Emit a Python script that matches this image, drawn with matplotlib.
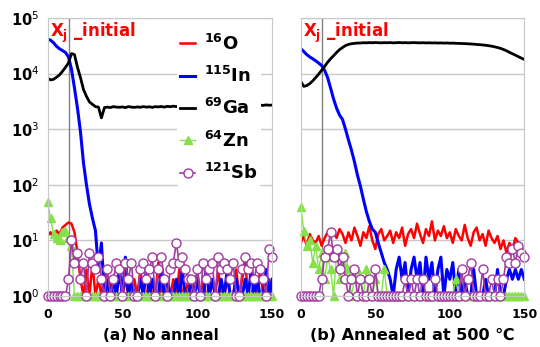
import numpy as np
import matplotlib.pyplot as plt
from matplotlib.ticker import FixedLocator, FuncFormatter, NullLocator

# profundidad (paso de 2)
depth = np.arange(0, 151, 2)

# (a) No anneal
in_a = [42000, 40000, 36000, 31000, 28000, 26000, 24000, 20000, 12000, 5500,
        2400, 900, 250, 100, 45, 25, 15, 3, 9, 1,
        2, 1, 2, 1, 3, 1, 5, 1, 2, 1,
        1, 2, 1, 3, 1, 2, 1, 1, 3, 1,
        2, 1, 1, 2, 1, 3, 1, 1, 2, 1,
        2, 1, 1, 3, 1, 2, 1, 1, 2, 1,
        3, 1, 1, 2, 1, 1, 2, 1, 3, 1,
        2, 1, 1, 3, 1, 2]
ga_a = [8300, 7700, 7900, 8600, 9500, 11000, 13000, 15500, 23000, 22000,
        13000, 8500, 5200, 3900, 3100, 2800, 2550, 2500, 1600, 2450,
        2500, 2450, 2550, 2500, 2480, 2520, 2450, 2550, 2500, 2470,
        2520, 2480, 2550, 2500, 2530, 2470, 2550, 2520, 2560, 2500,
        2580, 2540, 2600, 2550, 2620, 2580, 2600, 2560, 2620, 2600,
        2600, 2640, 2600, 2650, 2620, 2660, 2640, 2620, 2680, 2650,
        2660, 2700, 2650, 2680, 2700, 2660, 2720, 2690, 2700, 2720,
        2700, 2720, 2680, 2740, 2700, 2720]
o_a = [12, 14, 11, 15, 13, 17, 19, 21, 20, 14,
       6, 2, 1, 3, 1, 4, 1, 2, 1, 3,
       1, 2, 1, 1, 3, 1, 2, 1, 1, 2,
       1, 3, 1, 1, 2, 1, 1, 4, 1, 2,
       1, 1, 2, 1, 3, 1, 1, 2, 1, 1,
       3, 1, 2, 1, 1, 2, 1, 3, 1, 1,
       2, 1, 1, 3, 1, 2, 4, 1, 1, 2,
       1, 3, 1, 1, 2, 1]
zn_a = [50, 25, 13, 11, 10, 14, 15, 11, 8, 1,
        1, 1, 1, 1, 1, 1, 1, 1, 1, 1,
        1, 1, 1, 1, 1, 1, 1, 1, 1, 1,
        1, 1, 1, 1, 1, 1, 1, 1, 1, 1,
        1, 1, 1, 1, 1, 1, 1, 1, 1, 1,
        1, 1, 1, 1, 1, 1, 1, 1, 1, 1,
        1, 1, 1, 1, 1, 1, 1, 1, 1, 1,
        1, 1, 1, 1, 1, 1]
sb_a = [1, 1, 1, 1, 1, 1, 1, 2, 10, 4,
        6, 2, 4, 1, 6, 4, 3, 5, 2, 1,
        3, 1, 2, 4, 3, 1, 4, 2, 4, 1,
        1, 3, 4, 2, 3, 5, 1, 3, 5, 2,
        1, 3, 4, 9, 4, 5, 3, 2, 2, 1,
        3, 1, 4, 2, 3, 4, 1, 5, 3, 4,
        3, 2, 4, 1, 1, 3, 5, 3, 4, 2,
        4, 3, 2, 1, 7, 5]

# (b) Annealed at 500
in_b = [28000, 25000, 22000, 20000, 18500, 17000, 15500, 14000, 11500, 8500,
        5500, 3500, 2400, 1800, 1500, 1000, 640, 420, 260, 150,
        95, 55, 33, 22, 16, 14, 9, 6, 4, 3,
        2, 1, 3, 5, 2, 4, 1, 3, 5, 2,
        4, 1, 5, 2, 4, 1, 3, 5, 1, 3,
        2, 4, 1, 3, 1, 2, 1, 1, 3, 1,
        1, 1, 2, 1, 1, 1, 3, 1, 1, 2,
        3, 2, 3, 2, 3, 2]
ga_b = [7200, 5900, 6100, 6600, 7400, 8500, 9800, 11500, 13500, 16000,
        18500, 21000, 24000, 27000, 29500, 32000, 33500, 34500, 35000, 35500,
        35500, 36000, 35800, 36200, 35900, 36300, 36000, 35800, 36100, 35900,
        36200, 35800, 36000, 36300, 35900, 36100, 35800, 36000, 36200, 35900,
        35800, 36000, 35700, 35900, 35600, 35800, 35500, 35700, 35400, 35600,
        35300, 35400, 35100, 35000, 34800, 34700, 34400, 34200, 33900, 33500,
        33200, 32800, 32400, 31800, 31200, 30400, 29500, 28500, 27200, 25800,
        24200, 22800, 21500, 20200, 19000, 18000]
o_b = [9, 12, 8, 13, 10, 9, 12, 8, 11, 14,
       12, 15, 11, 16, 13, 9, 14, 10, 17, 12,
       8, 14, 11, 18, 10, 7, 13, 16, 10, 12,
       15, 9, 14, 11, 17, 8, 13, 16, 11, 20,
       13, 9, 16, 12, 22, 10, 15, 12, 18, 11,
       14, 9, 16, 12, 10, 19, 11, 8, 14, 17,
       10, 13, 8, 15, 11, 9, 12, 7, 10, 6,
       9, 7, 11, 9, 8, 5]
zn_b = [40, 15, 8, 10, 4, 8, 3, 6, 2, 5,
        3, 1, 6, 2, 4, 6, 3, 1, 2, 3,
        2, 1, 3, 1, 1, 2, 1, 1, 3, 1,
        1, 1, 1, 1, 1, 1, 1, 1, 1, 1,
        1, 1, 1, 1, 1, 1, 1, 1, 1, 1,
        1, 1, 2, 1, 1, 1, 1, 1, 1, 1,
        1, 1, 1, 1, 1, 1, 1, 1, 1, 1,
        1, 1, 1, 1, 1, 1]
sb_b = [1, 1, 1, 1, 1, 1, 1, 2, 5, 7,
        14, 5, 7, 3, 5, 2, 1, 2, 3, 1,
        2, 1, 1, 2, 1, 3, 1, 1, 1, 1,
        1, 1, 1, 1, 1, 2, 1, 2, 1, 2,
        1, 2, 1, 1, 1, 2, 1, 1, 1, 1,
        1, 1, 1, 1, 3, 1, 2, 4, 1, 1,
        1, 3, 1, 1, 2, 1, 2, 1, 2, 5,
        4, 7, 4, 8, 6, 5]

labels = [r'$^{\mathbf{16}}$O', r'$^{\mathbf{115}}$In', r'$^{\mathbf{69}}$Ga',
          r'$^{\mathbf{64}}$Zn', r'$^{\mathbf{121}}$Sb']
x_init = 14.5

fig = plt.figure(figsize=(5.4, 3.47), dpi=100)
ax1 = fig.add_axes([0.088, 0.147, 0.416, 0.801])
ax2 = fig.add_axes([0.557, 0.147, 0.414, 0.801])


def panel(ax, o, inn, ga, zn, sb):
    ax.plot(depth, o, color='#ff0000', lw=1.8, label=labels[0])
    ax.plot(depth, inn, color='#0000ff', lw=2.2, label=labels[1])
    ax.plot(depth, ga, color='black', lw=2.0, label=labels[2])
    ax.plot(depth, zn, color='#86e04a', lw=1.0, marker='^', ms=6,
            mec='#86e04a', label=labels[3], clip_on=False)
    ax.plot(depth, sb, color='#a03ca0', lw=1.2, marker='o', ms=6.5,
            mfc='white', mec='#a03ca0', mew=1.0, label=labels[4], clip_on=False)
    ax.axvline(x_init, color='#808080', lw=1.0, zorder=1)
    ax.set_yscale('log')
    ax.set_ylim(1, 1e5)
    ax.set_xlim(0, 150)
    ax.yaxis.set_major_locator(FixedLocator([1, 10, 100, 1e3, 1e4, 1e5]))
    ax.yaxis.set_minor_locator(NullLocator())
    ax.set_xticks([0, 50, 100, 150])
    ax.grid(axis='y', color='#c8c8c8', lw=1.0, zorder=0)
    ax.set_axisbelow(True)
    for s in ax.spines.values():
        s.set_color('#c8c8c8')
    ax.tick_params(length=0, labelsize=9, pad=9)
    ax.tick_params(axis='y', labelsize=10.5, pad=6)
    for t in ax.get_xticklabels():
        t.set_fontweight('bold')
    ax.text(0.012, 0.99, r'X$_{\mathbf{j}}$ _initial', transform=ax.transAxes,
            color='#ff0000', fontsize=12, fontweight='bold', va='top', ha='left')


panel(ax1, o_a, in_a, ga_a, zn_a, sb_a)
panel(ax2, o_b, in_b, ga_b, zn_b, sb_b)

ax1.yaxis.set_major_formatter(FuncFormatter(lambda v, p: '10$^{%d}$' % round(np.log10(v))))
for t in ax1.get_yticklabels():
    t.set_fontweight('bold')
ax2.set_yticklabels([])

leg = ax1.legend(loc='upper left', bbox_to_anchor=(0.535, 0.99), frameon=True,
                 facecolor='white', edgecolor='none', framealpha=1,
                 handlelength=0.8, handletextpad=0.5, labelspacing=0.68,
                 borderpad=0.2, prop={'weight': 'bold', 'size': 13})

fig.text(0.298, 0.012, '(a) No anneal', ha='center', va='bottom',
         fontsize=11, fontweight='bold')
fig.text(0.763, 0.012, '(b) Annealed at 500 ℃', ha='center', va='bottom',
         fontsize=11.5, fontweight='bold')

plt.savefig('out.png', dpi=100)
